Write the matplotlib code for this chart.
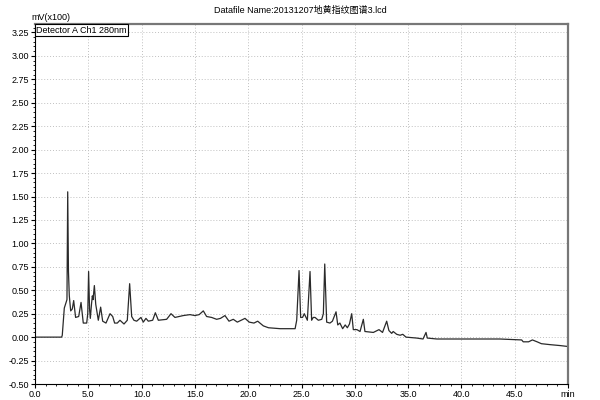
import matplotlib
matplotlib.use("Agg")
import matplotlib.pyplot as plt
from matplotlib.ticker import MultipleLocator, FixedLocator

plt.rcParams['font.family'] = ['Liberation Sans Narrow', 'Liberation Sans', 'Noto Sans CJK SC', 'DejaVu Sans']

# retention time (min) and signal (mV x100)
times = [0.0, 2.5, 2.56, 2.75, 2.91, 3.0, 3.07, 3.14, 3.22, 3.35, 3.5, 3.63, 3.81,
         4.1, 4.32, 4.53, 4.85, 4.95, 5.03, 5.12, 5.19, 5.3, 5.38, 5.45, 5.57, 5.7,
         5.94, 6.16, 6.35, 6.66, 6.85, 7.04, 7.29, 7.47, 7.72, 7.97, 8.35, 8.66,
         8.88, 9.07, 9.28, 9.54, 9.94, 10.16, 10.41, 10.63, 11.04, 11.29, 11.57,
         12.35, 12.76, 13.13, 13.91, 14.54, 15.0, 15.4, 15.79, 16.1, 16.57, 17.04,
         17.4, 17.82, 18.2, 18.6, 18.98, 19.7, 20.1, 20.54, 20.89, 21.42, 21.9,
         23.0, 24.4, 24.55, 24.77, 24.92, 25.1, 25.26, 25.55, 25.8, 25.95, 26.1,
         26.27, 26.58, 26.9, 27.05, 27.18, 27.36, 27.67, 27.9, 28.24, 28.4, 28.6,
         28.86, 29.1, 29.3, 29.5, 29.71, 29.86, 30.2, 30.49, 30.8, 30.95, 31.74,
         32.27, 32.6, 32.99, 33.2, 33.46, 33.6, 33.93, 34.25, 34.5, 34.8, 35.8,
         36.4, 36.68, 36.8, 37.7, 38.9, 40.5, 43.6, 45.65, 45.8, 46.3, 46.66,
         47.1, 47.5, 48.3, 49.25, 50.0]
signal = [0.0, 0.0, 0.02, 0.31, 0.37, 0.40, 1.55, 0.70, 0.44, 0.28, 0.30, 0.39, 0.21,
          0.22, 0.37, 0.15, 0.15, 0.25, 0.70, 0.30, 0.20, 0.35, 0.44, 0.40, 0.55, 0.35,
          0.18, 0.32, 0.17, 0.15, 0.20, 0.25, 0.22, 0.15, 0.15, 0.18, 0.14, 0.18,
          0.57, 0.22, 0.18, 0.17, 0.21, 0.16, 0.20, 0.17, 0.18, 0.26, 0.18,
          0.19, 0.25, 0.21, 0.23, 0.24, 0.23, 0.24, 0.28, 0.22, 0.21, 0.19,
          0.20, 0.23, 0.17, 0.19, 0.16, 0.20, 0.16, 0.15, 0.17, 0.12, 0.10,
          0.09, 0.09, 0.18, 0.71, 0.21, 0.21, 0.25, 0.18, 0.70, 0.18, 0.21,
          0.21, 0.18, 0.19, 0.25, 0.78, 0.16, 0.15, 0.17, 0.27, 0.13, 0.15,
          0.09, 0.13, 0.10, 0.14, 0.25, 0.08, 0.08, 0.06, 0.19, 0.06, 0.05,
          0.08, 0.05, 0.17, 0.07, 0.04, 0.06, 0.03, 0.02, 0.03, 0.0, -0.01,
          -0.02, 0.05, -0.01, -0.02, -0.02, -0.02, -0.02, -0.03, -0.05, -0.05, -0.03,
          -0.05, -0.07, -0.08, -0.09, -0.10]

y_ticks = [-0.50, -0.25, 0.00, 0.25, 0.50, 0.75, 1.00, 1.25, 1.50, 1.75, 2.00,
           2.25, 2.50, 2.75, 3.00, 3.25]
x_ticks = [0, 5, 10, 15, 20, 25, 30, 35, 40, 45, 50]
x_labels = ["0.0", "5.0", "10.0", "15.0", "20.0", "25.0", "30.0", "35.0", "40.0", "45.0", "min"]

fig = plt.figure(figsize=(6, 4), dpi=100)
ax = fig.add_axes([0.0583, 0.04, 0.8884, 0.90])

ax.plot(times, signal, color="#2a2a2a", linewidth=0.9)

ax.set_xlim(0, 50)
ax.set_ylim(-0.5, 3.34)

ax.xaxis.set_major_locator(FixedLocator(x_ticks))
ax.set_xticklabels(x_labels)
ax.xaxis.set_minor_locator(MultipleLocator(1))
ax.yaxis.set_major_locator(FixedLocator(y_ticks))
ax.set_yticklabels([f"{v:.2f}" for v in y_ticks])
ax.yaxis.set_minor_locator(MultipleLocator(0.05))

ax.tick_params(which="major", length=3, width=0.8, labelsize=6.5, pad=1.5, direction="out")
ax.tick_params(which="minor", length=1.5, width=0.6, direction="out")

ax.grid(True, which="major", linestyle=(0, (1, 2)), color="#c0c0c0", linewidth=0.7)

for side in ["top", "right"]:
    ax.spines[side].set_color("#777777")
    ax.spines[side].set_linewidth(1.6)
for side in ["left", "bottom"]:
    ax.spines[side].set_color("black")
    ax.spines[side].set_linewidth(0.8)

fig.text(0.5, 0.985, "Datafile Name:20131207地黄指纹图谱3.lcd", ha="center", va="top",
         fontsize=6.5)
fig.text(0.053, 0.945, "mV(x100)", ha="left", va="bottom", fontsize=6.5)
ax.text(0.002, 0.995, "Detector A Ch1 280nm", transform=ax.transAxes, ha="left", va="top",
        fontsize=6.5, bbox=dict(boxstyle="square,pad=0.15", facecolor="white",
                                edgecolor="black", linewidth=0.8))

fig.savefig("out.png", dpi=100)
